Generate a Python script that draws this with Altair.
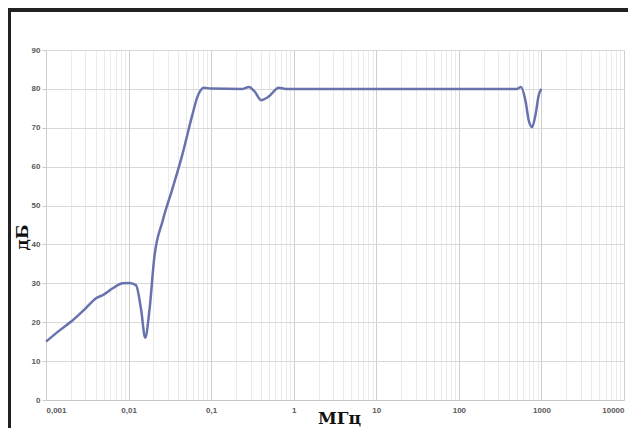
import altair as alt
import pandas as pd

# Frequency (MHz) and level (dB)
freq_mhz = [0.001, 0.0015, 0.002, 0.003, 0.004, 0.005, 0.0065, 0.0085, 0.0103,
            0.0123, 0.0142, 0.0159, 0.0179, 0.0205, 0.0259, 0.0343, 0.0448,
            0.0592, 0.0683, 0.0823, 0.0986, 0.24, 0.287, 0.34, 0.402, 0.497,
            0.66, 0.8, 100, 500, 565, 640, 700, 770, 850, 930, 1000]
level_db = [15.0, 18.1, 20.1, 23.5, 26.1, 27.1, 28.8, 30.0, 30.1,
            29.5, 23.2, 16.0, 23.1, 36.7, 46.1, 54.6, 63.1,
            73.3, 78.0, 80.3, 80.1, 80.0, 80.5, 79.2, 77.1, 78.0,
            80.3, 80.0, 80.0, 80.0, 80.5, 77.0, 72.0, 70.2, 73.5, 78.5, 80.0]

decades = [-3, -2, -1, 0, 1, 2, 3]
minor = [1, 2, 3, 4, 5, 6, 7, 8, 9]
x_ticks = [round(m * 10 ** k, 6) for k in decades for m in minor] + [10000]
y_ticks = [0, 10, 20, 30, 40, 50, 60, 70, 80, 90]

df = pd.DataFrame({"f": freq_mhz, "db": level_db})

W, H = 578, 350
PL, PT, PR, PB = 38, 42, 4, 28

is_decade = "abs(log(datum.value)/LN10 - round(log(datum.value)/LN10)) < 0.001"

x_axis = alt.Axis(
    values=x_ticks,
    labelExpr=f"{is_decade} ? replace(format(datum.value, ''), '.', ',') : ''",
    labelOverlap=False, labelBound=False,
    labelFont="Liberation Sans", labelFontSize=8, labelFontWeight="bold",
    labelColor="#595959", labelPadding=6,
    ticks=False, domainColor="#c8c8c8",
    gridColor={"condition": {"test": is_decade, "value": "#cfcfcf"}, "value": "#ebebeb"},
    title="МГц", titleFont="DejaVu Serif", titleFontSize=17, titleFontWeight="bold",
    titleColor="#111111", titleBaseline="alphabetic", titleY=23, titleX=W / 2 + 4,
)

y_axis = alt.Axis(
    values=y_ticks,
    labelFont="Liberation Sans", labelFontSize=8, labelFontWeight="bold",
    labelColor="#595959", labelPadding=2,
    tickSize=4, tickColor="#c8c8c8", domain=False,
    gridColor="#d9d9d9",
    title="дБ", titleFont="DejaVu Serif", titleFontSize=17, titleFontWeight="bold",
    titleColor="#111111", titleAngle=270, titleAlign="center", titleBaseline="middle",
    titleX=-24, titleY=H / 2 + 12,
)

line = alt.Chart(df).mark_line(
    interpolate="monotone", color="#6872ad", strokeWidth=2.5
).encode(
    x=alt.X("f:Q", scale=alt.Scale(type="log", domain=[0.001, 10000]), axis=x_axis),
    y=alt.Y("db:Q", scale=alt.Scale(domain=[0, 90]), axis=y_axis),
)

frame_left = alt.Chart(df).mark_rule(color="#222222", strokeWidth=3).encode(
    x=alt.value(-PL + 1.5), y=alt.value(-PT + 1), y2=alt.value(H + PB)
)
frame_top = alt.Chart(df).mark_rule(color="#222222", strokeWidth=3).encode(
    y=alt.value(-PT + 2), x=alt.value(-PL), x2=alt.value(W + PR)
)

chart = alt.layer(line, frame_left, frame_top).properties(
    width=W, height=H,
    autosize=alt.AutoSizeParams(type="none"),
    padding={"left": PL, "top": PT, "right": PR, "bottom": PB},
    background="white",
).configure_view(stroke=None)

chart.save("out.html", embed_options={"renderer": "svg", "actions": False})
